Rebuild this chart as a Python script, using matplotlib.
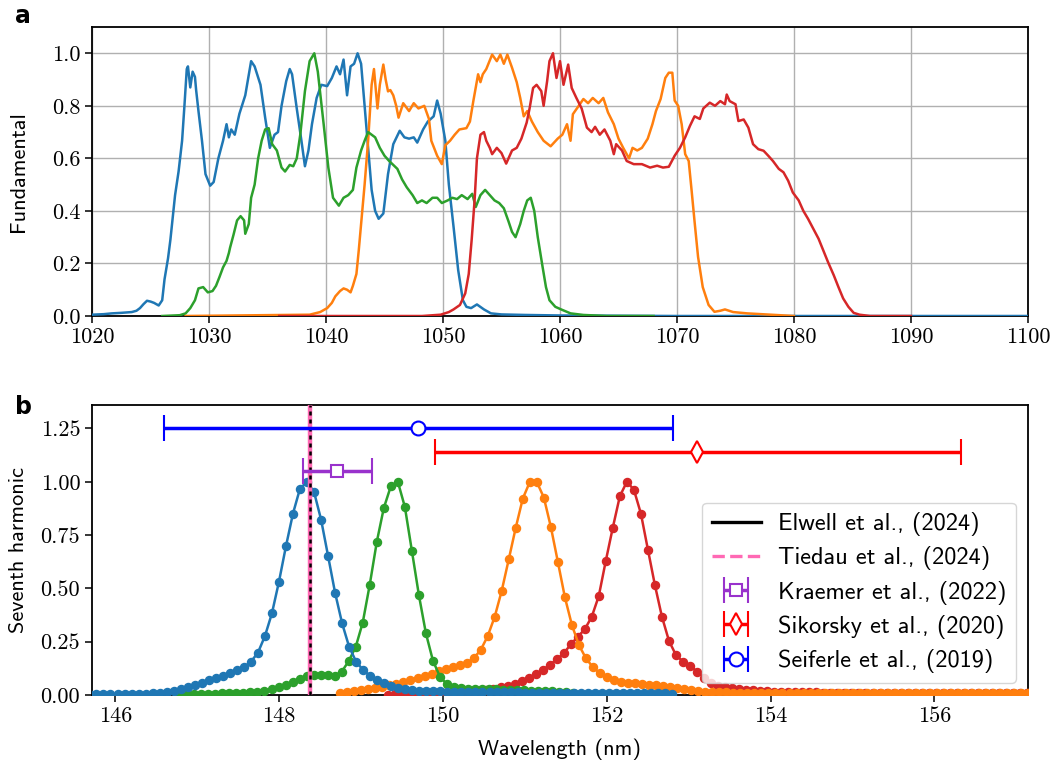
import numpy as np
import matplotlib
matplotlib.use("Agg")
import matplotlib.pyplot as plt
from matplotlib.lines import Line2D

# ---------------- Panel a: fundamental spectra (wavelength nm, normalised) ----------------
blue_fund_wl = [1020, 1021, 1021.7, 1022.5, 1023.4, 1023.8, 1024.1, 1024.4, 1024.7, 1025.0, 1025.3, 1025.7,
                1026.0, 1026.2, 1026.5, 1026.7, 1027.1, 1027.4, 1027.7, 1027.9, 1028.1, 1028.2, 1028.4, 1028.6,
                1028.8, 1028.9, 1029.1, 1029.4, 1029.7, 1030.1, 1030.4, 1030.8, 1031.2, 1031.5, 1031.7, 1031.9,
                1032.2, 1032.6, 1033.1, 1033.6, 1033.9, 1034.4, 1034.8, 1035.2, 1035.6, 1035.9, 1036.2, 1036.6,
                1036.9, 1037.1, 1037.5, 1037.9, 1038.2, 1038.5, 1038.8, 1039.2, 1039.6, 1040.1, 1040.5, 1040.9,
                1041.2, 1041.5, 1041.8, 1042.1, 1042.4, 1042.7, 1043.0, 1043.3, 1043.6, 1043.9, 1044.2, 1044.5,
                1044.9, 1045.3, 1045.75, 1046.3, 1046.7, 1047.1, 1047.5, 1047.8, 1048.3, 1048.7, 1049.2, 1049.5,
                1049.8, 1050.2, 1050.5, 1050.9, 1051.3, 1051.7, 1052.0, 1052.4, 1052.9, 1053.5, 1054.1, 1055,
                1057, 1060, 1065, 1070, 1100]
blue_fund_val = [0.005, 0.007, 0.01, 0.012, 0.015, 0.02, 0.03, 0.045, 0.058, 0.055, 0.05, 0.04,
                 0.06, 0.14, 0.22, 0.29, 0.46, 0.55, 0.667, 0.80, 0.94, 0.95, 0.87, 0.93,
                 0.91, 0.86, 0.78, 0.667, 0.54, 0.496, 0.51, 0.60, 0.667, 0.73, 0.68, 0.71,
                 0.69, 0.77, 0.84, 0.97, 0.95, 0.88, 0.755, 0.64, 0.69, 0.70, 0.80, 0.894,
                 0.94, 0.92, 0.79, 0.667, 0.57, 0.63, 0.73, 0.83, 0.88, 0.875, 0.906, 0.95,
                 0.92, 0.976, 0.84, 0.95, 0.96, 1.0, 0.96, 0.80, 0.64, 0.48, 0.40, 0.37,
                 0.39, 0.54, 0.654, 0.705, 0.68, 0.675, 0.68, 0.66, 0.71, 0.74, 0.76, 0.82,
                 0.77, 0.667, 0.50, 0.34, 0.174, 0.06, 0.035, 0.03, 0.044, 0.025, 0.01, 0.006,
                 0.004, 0.002, 0.001, 0.0, 0.0]

orange_fund_wl = [1028, 1038.6, 1039.5, 1040.1, 1040.5, 1040.8, 1041.2, 1041.5, 1041.8, 1042.1, 1042.3,
                  1042.6, 1042.8, 1043.0, 1043.3, 1043.6, 1043.9, 1044.1, 1044.4, 1044.6, 1044.9, 1045.1,
                  1045.3, 1045.5, 1045.75, 1046.0, 1046.2, 1046.6, 1047.1, 1047.5, 1047.9, 1048.4, 1048.8,
                  1049.0, 1049.5, 1049.9, 1050.2, 1050.6, 1051.0, 1051.4, 1052.0, 1052.3, 1052.6, 1053.0,
                  1053.2, 1053.4, 1053.7, 1054.2, 1054.6, 1054.9, 1055.2, 1055.5, 1055.9, 1056.3, 1056.6,
                  1056.9, 1057.2, 1057.6, 1058.1, 1058.6, 1059.2, 1059.8, 1060.2, 1060.6, 1060.9, 1061.1,
                  1061.6, 1062.0, 1062.4, 1062.8, 1063.3, 1063.7, 1064.1, 1064.6, 1065.0, 1065.4, 1065.9,
                  1066.2, 1066.6, 1067.0, 1067.5, 1067.9, 1068.2, 1068.6, 1069.0, 1069.3, 1069.6, 1069.8,
                  1070.1, 1070.4, 1070.7, 1071.0, 1071.25, 1071.5, 1071.8, 1072.2, 1072.7, 1073.2, 1073.7,
                  1074.1, 1074.8, 1076, 1078, 1080]
orange_fund_val = [0.0, 0.005, 0.015, 0.03, 0.05, 0.075, 0.095, 0.105, 0.10, 0.09, 0.115,
                   0.16, 0.25, 0.35, 0.50, 0.667, 0.88, 0.94, 0.79, 0.88, 0.957, 0.90,
                   0.855, 0.86, 0.84, 0.80, 0.755, 0.81, 0.78, 0.81, 0.79, 0.80, 0.75,
                   0.667, 0.61, 0.578, 0.65, 0.667, 0.69, 0.71, 0.715, 0.74, 0.82, 0.92,
                   0.89, 0.92, 0.94, 0.995, 0.97, 0.995, 0.96, 0.995, 0.945, 0.89, 0.83,
                   0.76, 0.78, 0.74, 0.70, 0.667, 0.646, 0.675, 0.69, 0.73, 0.667, 0.768,
                   0.80, 0.826, 0.81, 0.83, 0.81, 0.83, 0.775, 0.73, 0.675, 0.64, 0.60,
                   0.64, 0.63, 0.64, 0.675, 0.73, 0.78, 0.826, 0.906, 0.926, 0.926, 0.82,
                   0.80, 0.73, 0.616, 0.59, 0.477, 0.36, 0.225, 0.11, 0.042, 0.016, 0.02,
                   0.025, 0.015, 0.01, 0.005, 0.0]

green_fund_wl = [1026, 1027.5, 1028.0, 1028.4, 1028.8, 1029.1, 1029.5, 1029.9, 1030.3, 1030.6, 1030.9,
                 1031.2, 1031.5, 1031.7, 1031.8, 1032.1, 1032.4, 1032.7, 1033.0, 1033.1, 1033.4, 1033.6,
                 1033.9, 1034.2, 1034.5, 1034.8, 1035.1, 1035.4, 1035.8, 1036.2, 1036.5, 1036.9, 1037.2,
                 1037.5, 1037.8, 1038.2, 1038.6, 1039.0, 1039.3, 1039.8, 1040.2, 1040.6, 1041.1, 1041.5,
                 1041.9, 1042.3, 1042.6, 1043.0, 1043.3, 1043.6, 1044.2, 1044.6, 1045.0, 1045.4, 1046.1,
                 1046.5, 1046.9, 1047.4, 1047.8, 1048.2, 1048.6, 1049.1, 1049.5, 1049.9, 1050.4, 1050.8,
                 1051.2, 1051.6, 1052.1, 1052.5, 1052.8, 1053.2, 1053.6, 1054.0, 1054.4, 1054.8, 1055.2,
                 1055.6, 1055.9, 1056.2, 1056.6, 1056.9, 1057.2, 1057.5, 1057.8, 1058.1, 1058.5, 1058.8,
                 1059.1, 1059.6, 1060.1, 1060.9, 1062, 1064, 1068]
green_fund_val = [0.0, 0.003, 0.01, 0.03, 0.06, 0.105, 0.11, 0.09, 0.095, 0.115, 0.149,
                  0.185, 0.21, 0.24, 0.26, 0.31, 0.364, 0.38, 0.364, 0.313, 0.35, 0.45,
                  0.50, 0.60, 0.667, 0.71, 0.715, 0.654, 0.63, 0.565, 0.55, 0.575, 0.57,
                  0.60, 0.69, 0.856, 0.97, 1.0, 0.93, 0.73, 0.565, 0.45, 0.42, 0.45,
                  0.46, 0.48, 0.565, 0.63, 0.667, 0.70, 0.68, 0.64, 0.61, 0.59, 0.56,
                  0.52, 0.49, 0.46, 0.43, 0.44, 0.43, 0.45, 0.45, 0.43, 0.44, 0.45,
                  0.445, 0.46, 0.445, 0.465, 0.415, 0.46, 0.48, 0.46, 0.44, 0.43, 0.41,
                  0.36, 0.32, 0.30, 0.35, 0.40, 0.44, 0.45, 0.40, 0.30, 0.19, 0.11,
                  0.06, 0.035, 0.025, 0.01, 0.004, 0.0, 0.0]

red_fund_wl = [1036, 1048.2, 1049.8, 1050.5, 1050.9, 1051.45, 1051.9, 1052.2, 1052.45, 1052.7, 1052.9,
               1053.2, 1053.5, 1053.7, 1054.0, 1054.2, 1054.6, 1055.0, 1055.4, 1055.9, 1056.3, 1056.7,
               1057.15, 1057.4, 1057.7, 1058.0, 1058.4, 1058.6, 1058.9, 1059.1, 1059.4, 1059.7, 1060.0,
               1060.3, 1060.7, 1061.0, 1061.4, 1061.85, 1062.3, 1062.7, 1063.0, 1063.4, 1063.8, 1064.3,
               1064.6, 1064.8, 1065.3, 1065.7, 1066.3, 1067.0, 1067.7, 1068.3, 1068.8, 1069.3, 1069.8,
               1070.25, 1070.7, 1071.1, 1071.5, 1071.95, 1072.25, 1072.8, 1073.25, 1073.7, 1074.1, 1074.25,
               1074.5, 1075.0, 1075.25, 1075.7, 1076.1, 1076.5, 1076.95, 1077.4, 1077.8, 1078.2, 1078.7,
               1079.1, 1079.5, 1079.9, 1080.4, 1080.8, 1081.2, 1081.65, 1082.1, 1082.5, 1082.9, 1083.4,
               1083.8, 1084.2, 1084.65, 1085.1, 1085.6, 1086.5, 1090]
red_fund_val = [0.0, 0.0, 0.005, 0.015, 0.025, 0.042, 0.086, 0.16, 0.29, 0.44, 0.60,
                0.69, 0.70, 0.667, 0.64, 0.616, 0.64, 0.62, 0.58, 0.63, 0.64, 0.675,
                0.736, 0.79, 0.868, 0.88, 0.856, 0.80, 0.894, 0.97, 1.0, 0.906, 0.97,
                0.88, 0.957, 0.868, 0.83, 0.79, 0.717, 0.70, 0.72, 0.69, 0.71, 0.667,
                0.616, 0.654, 0.63, 0.59, 0.578, 0.578, 0.565, 0.572, 0.565, 0.568, 0.61,
                0.64, 0.68, 0.723, 0.76, 0.75, 0.79, 0.812, 0.80, 0.818, 0.806, 0.843,
                0.818, 0.806, 0.742, 0.748, 0.717, 0.654, 0.635, 0.629, 0.61, 0.59, 0.56,
                0.547, 0.515, 0.47, 0.44, 0.40, 0.37, 0.332, 0.294, 0.25, 0.206, 0.155,
                0.11, 0.067, 0.035, 0.012, 0.005, 0.0, 0.0]

# ---------------- Panel b: seventh harmonic (uniform sampling grid) ----------------
harm_step = 0.0857
blue_h_start = 145.683
blue_h_val = [0.003, 0.003, 0.003, 0.004, 0.004, 0.005, 0.005, 0.006, 0.007, 0.009, 0.011,
              0.016, 0.020, 0.027, 0.036, 0.047, 0.058, 0.069, 0.080, 0.090, 0.103, 0.116,
              0.130, 0.156, 0.198, 0.276, 0.383, 0.531, 0.698, 0.851, 0.968, 1.000,
              0.952, 0.823, 0.652, 0.479, 0.336, 0.226, 0.156, 0.117, 0.089, 0.070, 0.055,
              0.042, 0.034, 0.028, 0.023, 0.020, 0.019, 0.018, 0.017, 0.016, 0.015, 0.015,
              0.014, 0.014, 0.013, 0.013, 0.013, 0.012, 0.012, 0.012, 0.011, 0.011, 0.011,
              0.011, 0.010, 0.010, 0.010, 0.010, 0.010, 0.009, 0.009, 0.009, 0.009, 0.009,
              0.009, 0.008, 0.008, 0.008, 0.008, 0.008, 0.008, 0.007]

green_h_start = 146.792
green_h_val = [0.002, 0.003, 0.004, 0.005, 0.006, 0.007, 0.008, 0.009, 0.010, 0.011,
               0.013, 0.016, 0.020, 0.027, 0.036, 0.047, 0.061,
               0.074, 0.087, 0.095, 0.095, 0.093, 0.091, 0.109,
               0.159, 0.226, 0.340, 0.518, 0.718, 0.877, 0.979, 1.000,
               0.882, 0.676, 0.468, 0.289, 0.161, 0.086, 0.050, 0.036, 0.032, 0.030, 0.029,
               0.028, 0.027, 0.026, 0.025, 0.024, 0.023, 0.022, 0.021, 0.020, 0.019, 0.017,
               0.015, 0.012, 0.008]

orange_h_start = 148.746
orange_h_val = [0.011, 0.016, 0.020, 0.023, 0.027, 0.031, 0.037, 0.045, 0.053, 0.061, 0.069,
                0.078, 0.087, 0.098, 0.111, 0.120, 0.130, 0.141, 0.151, 0.172, 0.211, 0.276,
                0.367, 0.489, 0.636, 0.785, 0.921, 0.999, 0.999, 0.926, 0.788, 0.624, 0.458,
                0.328, 0.234, 0.172, 0.130, 0.102, 0.083, 0.070, 0.062, 0.058, 0.055, 0.052,
                0.049, 0.046, 0.043, 0.039, 0.035, 0.030, 0.024, 0.019, 0.015, 0.013, 0.012,
                0.012, 0.011, 0.011, 0.011, 0.010, 0.010, 0.010, 0.010, 0.010, 0.010, 0.009,
                0.009, 0.009, 0.009, 0.009, 0.009, 0.009, 0.009, 0.008, 0.008, 0.008, 0.008,
                0.008, 0.008, 0.008, 0.008, 0.008, 0.008, 0.008, 0.008, 0.008, 0.008, 0.008,
                0.008, 0.008, 0.008, 0.008, 0.008, 0.008, 0.008, 0.008, 0.008, 0.008, 0.008]

red_h_start = 149.331
red_h_val = [0.002, 0.003, 0.004, 0.005, 0.006, 0.007, 0.008, 0.009, 0.010, 0.011, 0.013,
             0.015, 0.018, 0.021, 0.025, 0.030, 0.036, 0.043, 0.052, 0.066, 0.078, 0.098,
             0.117, 0.141, 0.167, 0.195, 0.237, 0.273, 0.308, 0.367, 0.464, 0.629, 0.785,
             0.932, 1.000, 0.963, 0.851, 0.682, 0.515, 0.367, 0.254, 0.187, 0.157, 0.137,
             0.110, 0.082, 0.057, 0.043, 0.036, 0.032, 0.028, 0.025, 0.022, 0.019, 0.017,
             0.016, 0.015, 0.014, 0.013, 0.013, 0.012, 0.012, 0.011, 0.011, 0.011, 0.010,
             0.010, 0.010, 0.010, 0.009, 0.009, 0.009, 0.009, 0.009, 0.009, 0.009, 0.008,
             0.008, 0.008, 0.008, 0.008, 0.008, 0.008, 0.008, 0.008, 0.008, 0.008, 0.008,
             0.008, 0.008, 0.008, 0.008]

# literature values (nm): centre, lower, upper, y-position
elwell_wl = 148.382
tiedau_wl = 148.3821
lit_labels = ["Kraemer et al., (2022)", "Sikorsky et al., (2020)", "Seiferle et al., (2019)"]
lit_center = [148.71, 153.10, 149.70]
lit_low = [148.29, 149.90, 146.59]
lit_high = [149.13, 156.32, 152.81]
lit_y = [1.05, 1.14, 1.25]
lit_colors = ["darkorchid", "red", "blue"]
lit_markers = ["s", "d", "o"]
lit_msize = [9, 11, 10]

C = ["#1f77b4", "#ff7f0e", "#2ca02c", "#d62728"]
FS = 16

plt.rcParams["mathtext.fontset"] = "cm"
plt.rcParams["axes.unicode_minus"] = False

fig = plt.figure(figsize=(10.55, 7.70), dpi=100)
axa = fig.add_axes([92 / 1055, 1 - 316 / 770, 936 / 1055, 289 / 770])
axb = fig.add_axes([92 / 1055, 1 - 695 / 770, 936 / 1055, 290 / 770])

# panel a
for wl, val, c in [(blue_fund_wl, blue_fund_val, C[0]), (orange_fund_wl, orange_fund_val, C[1]),
                   (green_fund_wl, green_fund_val, C[2]), (red_fund_wl, red_fund_val, C[3])]:
    axa.plot(wl, val, color=c, lw=1.8, zorder=3)
axa.set_xlim(1020, 1100)
axa.set_ylim(0, 1.1)
axa.set_xticks(np.arange(1020, 1101, 10))
axa.set_yticks([0, 0.2, 0.4, 0.6, 0.8, 1.0])
axa.set_yticklabels(["0.0", "0.2", "0.4", "0.6", "0.8", "1.0"])
axa.grid(True, color="#b0b0b0", lw=1.0)
axa.set_ylabel("Fundamental", fontsize=FS, family="cmss10")

# panel b
harm = [(red_h_start, red_h_val, C[3]), (orange_h_start, orange_h_val, C[1]),
        (green_h_start, green_h_val, C[2]), (blue_h_start, blue_h_val, C[0])]
for st, val, c in harm:
    x = st + harm_step * np.arange(len(val))
    axb.plot(x, val, color=c, lw=1.8, marker="o", ms=5.8, zorder=3)

axb.axvline(tiedau_wl, color="hotpink", lw=3.2, zorder=4)
axb.axvline(elwell_wl, color="k", lw=1.8, ls=(0, (1.6, 1.6)), zorder=5)

eb_handles = []
for lab, cx, lo, hi, yy, col, mk, ms in zip(lit_labels, lit_center, lit_low, lit_high, lit_y,
                                             lit_colors, lit_markers, lit_msize):
    h = axb.errorbar([cx], [yy], xerr=[[cx - lo], [hi - cx]], fmt=mk, color=col, mfc="white",
                     mec=col, mew=1.5, ms=ms, elinewidth=2.5, capsize=9.5, capthick=1.5,
                     label=lab, zorder=6)
    eb_handles.append(h)

axb.set_xlim(1020 / 7, 1100 / 7)
axb.set_ylim(0, 1.36)
axb.set_xticks([146, 148, 150, 152, 154, 156])
axb.set_yticks([0, 0.25, 0.5, 0.75, 1.0, 1.25])
axb.set_yticklabels(["0.00", "0.25", "0.50", "0.75", "1.00", "1.25"])
axb.set_ylabel("Seventh harmonic", fontsize=FS, family="cmss10")
axb.set_xlabel("Wavelength (nm)", fontsize=FS, family="cmss10", labelpad=9)

# same horizontal position for both y labels (right edge ~ x=28 px)
axa.yaxis.set_label_coords((28 - 92) / 936, 0.5)
axb.yaxis.set_label_coords((28 - 92) / 936, 0.5)

h_el = Line2D([], [], color="k", lw=2.4)
h_ti = Line2D([], [], color="hotpink", lw=2.4, ls="--")
handles = [h_el, h_ti] + eb_handles
labels = ["Elwell et al., (2024)", "Tiedau et al., (2024)"] + lit_labels
axb.legend(handles, labels, loc="lower right", prop={"family": "cmss10", "size": 17.5},
           framealpha=0.8, edgecolor="#cccccc", borderaxespad=0.5, labelspacing=0.42,
           handlelength=2.0, handletextpad=0.7)

for ax in (axa, axb):
    ax.tick_params(direction="out", length=5, width=1.1, labelsize=FS, labelfontfamily="cmr10")
    for s in ax.spines.values():
        s.set_linewidth(1.3)

fig.text(15 / 1055, 1 - 4 / 770, "a", fontsize=17, fontweight="bold", family="DejaVu Sans", va="top")
fig.text(15 / 1055, 1 - 395 / 770, "b", fontsize=17, fontweight="bold", family="DejaVu Sans", va="top")

fig.savefig("out.png", dpi=100)
